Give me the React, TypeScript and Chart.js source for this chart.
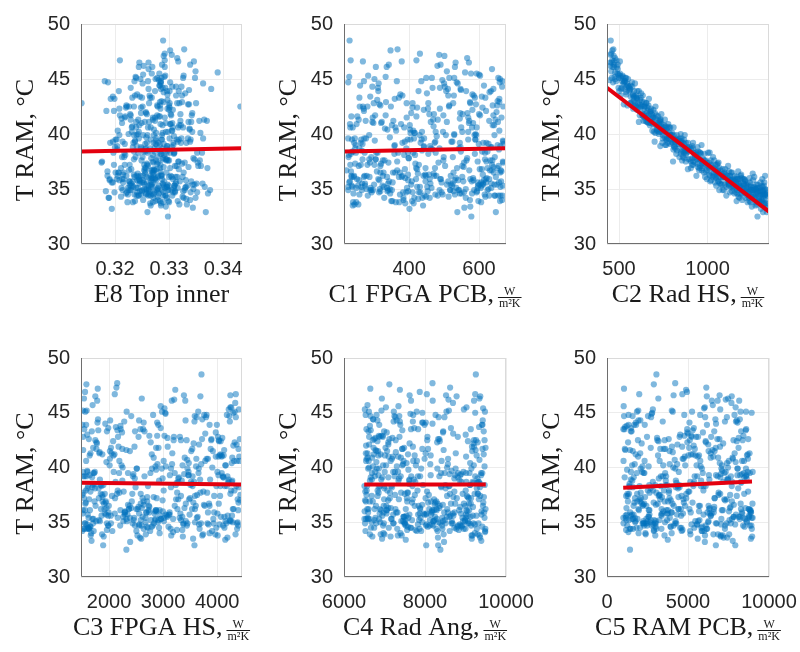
import React, { useEffect, useRef } from "react";
import { Chart, registerables } from "chart.js";
Chart.register(...registerables);

// T RAM, °C — shared response for all six panels (one value per sample)
const tRam = [
  35.7, 42.5, 38.8, 33.2, 47.6, 39.5, 36.1, 42.8, 34.3, 39.4, 43.5, 36.1,
  36.6, 41.6, 35.9, 45.6, 34.9, 41.1, 38.4, 35.3, 34.2, 45.1, 37.5, 37.1,
  41.1, 32.5, 38.3, 48.5, 37.0, 41.3, 35.1, 42.8, 33.7, 36.8, 42.5, 36.9,
  34.9, 44.2, 39.4, 34.7, 40.2, 39.0, 35.3, 43.2, 34.9, 45.3, 35.4, 39.9,
  36.1, 42.0, 33.8, 44.9, 37.8, 36.5, 43.9, 36.3, 39.5, 32.9, 40.1, 36.5,
  34.9, 43.7, 35.8, 46.1, 37.9, 35.9, 39.2, 34.8, 44.1, 38.3, 38.8, 33.8,
  41.1, 35.3, 40.6, 36.2, 43.6, 36.7, 35.2, 46.3, 36.7, 41.0, 34.2, 37.9,
  35.7, 46.5, 36.2, 35.6, 41.8, 36.8, 39.1, 33.6, 42.6, 35.8, 42.2, 34.7,
  39.1, 34.9, 45.1, 35.7, 40.6, 33.9, 42.6, 35.6, 37.6, 44.8, 35.8, 39.2,
  34.3, 41.8, 37.6, 34.5, 44.4, 37.5, 35.9, 41.2, 34.9, 46.2, 35.2, 40.0,
  36.7, 41.7, 34.7, 39.9, 33.3, 44.8, 35.2, 38.3, 35.8, 39.3, 37.7, 35.6,
  44.7, 35.1, 38.9, 36.7, 41.2, 34.9, 38.1, 34.9, 44.7, 36.2, 40.5, 34.6,
  36.2, 45.3, 38.1, 34.3, 40.3, 36.1, 34.4, 42.8, 38.3, 35.5, 40.7, 33.9,
  42.7, 36.4, 38.5, 34.6, 42.9, 36.1, 35.9, 45.2, 35.4, 40.4, 36.5, 35.4,
  38.5, 44.3, 34.8, 33.4, 41.3, 37.4, 39.2, 34.5, 44.6, 36.6, 37.5, 35.2,
  46.1, 34.9, 39.6, 33.9, 42.5, 35.4, 38.9, 35.9, 44.2, 37.3, 34.2, 41.5,
  36.9, 33.9, 42.3, 35.5, 40.6, 47.3, 35.4, 37.3, 35.3, 42.4, 33.5, 39.1,
  34.5, 44.3, 37.2, 34.7, 40.2, 38.7, 35.3, 42.2, 34.8, 37.4, 47.1, 35.0,
  39.5, 35.7, 41.6, 34.5, 38.7, 36.5, 44.0, 34.0, 39.0, 35.1, 45.1, 36.3,
  35.0, 37.6, 34.9, 41.6, 34.8, 37.8, 41.3, 34.4, 44.6, 34.7, 36.8, 42.3,
  36.0, 43.9, 35.7, 34.4, 46.6, 39.9, 35.1, 38.9, 35.3, 37.1, 46.7, 35.5,
  44.4, 36.1, 39.8, 33.8, 43.2, 34.9, 36.9, 37.3, 45.0, 35.1, 38.2, 32.9,
  34.9, 40.2, 36.2, 47.2, 37.6, 34.2, 42.8, 35.9, 39.2, 35.5, 44.8, 34.2,
  38.9, 35.4, 41.2, 36.2, 39.0, 34.4, 46.7, 36.2, 39.9, 34.7, 41.9, 37.0,
  34.4, 42.8, 33.8, 39.2, 37.2, 43.1, 36.0, 47.7, 35.6, 40.9, 34.6, 35.9,
  41.0, 35.5, 39.5, 36.5, 43.9, 33.6, 37.9, 36.5, 43.5, 34.8, 39.6, 36.8,
  36.4, 45.2, 37.1, 34.6, 42.5, 33.7, 38.2, 37.9, 45.1, 35.1, 40.3, 36.0,
  37.7, 34.5, 44.3, 36.0, 39.3, 35.3, 41.9, 33.5, 38.1, 45.5, 34.6, 34.4,
  36.3, 40.6, 34.4, 43.8, 35.5, 38.4, 34.0, 41.0, 35.4, 35.2, 43.9, 37.7,
  35.0, 46.3, 35.6, 34.8, 38.7, 35.8, 40.9, 34.0, 37.2, 44.2, 35.1, 40.1,
  36.1, 34.5, 42.6, 38.2, 34.1, 41.0, 35.6, 44.1, 37.8, 34.4, 37.1, 41.9,
  35.0, 39.5, 35.2, 46.5, 36.1, 35.1, 43.0, 37.4, 35.8, 40.3, 36.2, 33.9,
  41.4, 39.6, 43.3, 39.2, 40.6, 45.0, 38.3, 41.7, 39.5, 36.2, 41.8, 45.9,
  39.5, 41.5, 38.2, 43.5, 41.3, 36.6, 38.8, 43.5, 39.1, 35.1, 46.6, 38.4,
  43.3, 38.3, 41.7, 37.4, 39.9, 44.7, 34.4, 40.8, 37.6, 41.5, 35.9, 37.5,
  40.2, 35.7, 42.7, 38.4, 42.1, 34.7, 40.6, 45.7, 38.4, 40.8, 36.5, 42.9,
  39.2, 41.7, 36.3, 40.9, 43.6, 36.9, 42.5, 34.7, 39.3, 43.3, 33.8, 37.2,
  40.8, 36.1, 40.1, 43.9, 37.2, 40.2, 39.2, 45.5, 34.2, 42.6, 36.9, 35.4,
  40.0, 34.9, 44.1, 39.3, 36.9, 41.7, 35.6, 39.6, 38.7, 35.2, 44.8, 41.5,
  37.7, 42.4, 36.2, 39.5, 46.9, 38.7, 34.9, 41.1, 37.6, 39.3, 35.8, 43.3,
  39.9, 36.5, 44.6, 37.7, 42.1, 34.7, 39.6, 37.4, 42.5, 35.3, 41.1, 38.3,
  42.4, 39.9, 37.1, 46.1, 38.3, 40.8, 35.9, 38.7, 43.4, 35.7, 41.8, 38.3,
  35.7, 42.8, 38.6, 35.2, 39.7, 45.1, 37.2, 41.2, 34.7, 38.8, 43.4, 36.7,
  40.4, 37.9, 42.9, 35.5, 39.6, 45.4, 36.2, 40.6, 36.7, 42.3, 35.0, 38.6,
];

// E8 Top inner
const e8TopInner = [
  0.3291, 0.3432, 0.3248, 0.3194, 0.3302, 0.3266, 0.3315, 0.3138, 0.3279, 0.3237, 0.3324, 0.3258,
  0.3284, 0.3219, 0.3307, 0.3390, 0.3262, 0.3341, 0.3273, 0.3229, 0.3296, 0.3286, 0.3176, 0.3311,
  0.3255, 0.3298, 0.3243, 0.3289, 0.3336, 0.3270, 0.3212, 0.3301, 0.3265, 0.3318, 0.3251, 0.3283,
  0.3230, 0.3293, 0.3276, 0.3352, 0.3244, 0.3308, 0.3262, 0.3199, 0.3287, 0.3327, 0.3268, 0.3240,
  0.3305, 0.3257, 0.3223, 0.3281, 0.3345, 0.3271, 0.3296, 0.3235, 0.3314, 0.3260, 0.3288, 0.3206,
  0.3277, 0.3330, 0.3252, 0.3292, 0.3217, 0.3274, 0.3322, 0.3246, 0.3285, 0.3361, 0.3233, 0.3300,
  0.3263, 0.3310, 0.3239, 0.3280, 0.3297, 0.3226, 0.3269, 0.3339, 0.3254, 0.3294, 0.3188, 0.3278,
  0.3320, 0.3245, 0.3286, 0.3215, 0.3303, 0.3272, 0.3256, 0.3333, 0.3283, 0.3241, 0.3307, 0.3264,
  0.3290, 0.3228, 0.3348, 0.3267, 0.3231, 0.3299, 0.3278, 0.3313, 0.3249, 0.3285, 0.3208, 0.3271,
  0.3325, 0.3259, 0.3295, 0.3236, 0.3282, 0.3317, 0.3203, 0.3274, 0.3329, 0.3253, 0.3290, 0.3242,
  0.3269, 0.3304, 0.3222, 0.3287, 0.3344, 0.3261, 0.3234, 0.3309, 0.3276, 0.3196, 0.3296, 0.3250,
  0.3284, 0.3316, 0.3240, 0.3273, 0.3356, 0.3258, 0.3291, 0.3225, 0.3302, 0.3266, 0.3338, 0.3281,
  0.3247, 0.3293, 0.3270, 0.3211, 0.3306, 0.3279, 0.3243, 0.3319, 0.3260, 0.3288, 0.3232, 0.3275,
  0.3335, 0.3256, 0.3298, 0.3220, 0.3283, 0.3312, 0.3267, 0.3238, 0.3347, 0.3272, 0.3201, 0.3289,
  0.3262, 0.3323, 0.3250, 0.3294, 0.3229, 0.3280, 0.3308, 0.3257, 0.3285, 0.3186, 0.3270, 0.3331,
  0.3244, 0.3299, 0.3276, 0.3316, 0.3235, 0.3266, 0.3297, 0.3213, 0.3288, 0.3259, 0.3327, 0.3274,
  0.3302, 0.3237, 0.3284, 0.3351, 0.3261, 0.3292, 0.3227, 0.3278, 0.3310, 0.3248, 0.3285, 0.3218,
  0.3271, 0.3306, 0.3254, 0.3289, 0.3343, 0.3265, 0.3232, 0.3300, 0.3279, 0.3175, 0.3290, 0.3262,
  0.3318, 0.3246, 0.3283, 0.3224, 0.3295, 0.3269, 0.3337, 0.3252, 0.3277, 0.3309, 0.3239, 0.3286,
  0.3258, 0.3300, 0.3214, 0.3281, 0.3326, 0.3267, 0.3243, 0.3293, 0.3363, 0.3273, 0.3230, 0.3297,
  0.3268, 0.3301, 0.3227, 0.3289, 0.3317, 0.3252, 0.3279, 0.3204, 0.3334, 0.3261, 0.3292, 0.3245,
  0.3283, 0.3236, 0.3309, 0.3270, 0.3192, 0.3298, 0.3257, 0.3324, 0.3275, 0.3242, 0.3286, 0.3368,
  0.3250, 0.3294, 0.3221, 0.3305, 0.3276, 0.3349, 0.3263, 0.3287, 0.3234, 0.3312, 0.3181, 0.3271,
  0.3296, 0.3255, 0.3321, 0.3240, 0.3283, 0.3266, 0.3209, 0.3303, 0.3272, 0.3340, 0.3248, 0.3290,
  0.3261, 0.3315, 0.3233, 0.3280, 0.3198, 0.3297, 0.3270, 0.3328, 0.3253, 0.3284, 0.3372, 0.3244,
  0.3306, 0.3259, 0.3287, 0.3216, 0.3274, 0.3319, 0.3238, 0.3295, 0.3264, 0.3183, 0.3301, 0.3277,
  0.3242, 0.3291, 0.3354, 0.3269, 0.3226, 0.3285, 0.3309, 0.3251, 0.3278, 0.3330, 0.3205, 0.3263,
  0.3288, 0.3248, 0.3313, 0.3275, 0.3237, 0.3299, 0.3343, 0.3266, 0.3219, 0.3282, 0.3258, 0.3306,
  0.3271, 0.3326, 0.3244, 0.3290, 0.3362, 0.3256, 0.3280, 0.3213, 0.3297, 0.3267, 0.3318, 0.3235,
  0.3254, 0.3287, 0.3196, 0.3311, 0.3273, 0.3245, 0.3302, 0.3339, 0.3260, 0.3229, 0.3293, 0.3276,
  0.3300, 0.3263, 0.3221, 0.3284, 0.3332, 0.3249, 0.3271, 0.3378, 0.3289, 0.3240, 0.3314, 0.3257,
  0.3279, 0.3203, 0.3296, 0.3262, 0.3325, 0.3239, 0.3286, 0.3271, 0.3190, 0.3305, 0.3252, 0.3283,
  0.3212, 0.3335, 0.3268, 0.3191, 0.3307, 0.3247, 0.3352, 0.3229, 0.3286, 0.3205, 0.3321, 0.3262,
  0.3340, 0.3218, 0.3294, 0.3237, 0.3365, 0.3256, 0.3200, 0.3313, 0.3275, 0.3224, 0.3346, 0.3283,
  0.3232, 0.3302, 0.3209, 0.3329, 0.3260, 0.3187, 0.3294, 0.3245, 0.3357, 0.3270, 0.3216, 0.3318,
  0.3298, 0.3226, 0.3337, 0.3253, 0.3198, 0.3311, 0.3266, 0.3349, 0.3235, 0.3288, 0.3207, 0.3324,
  0.3259, 0.3342, 0.3215, 0.3303, 0.3241, 0.3371, 0.3279, 0.3199, 0.3316, 0.3250, 0.3289, 0.3227,
  0.3319, 0.3243, 0.3358, 0.3207, 0.3284, 0.3231, 0.3332, 0.3268, 0.3189, 0.3300, 0.3255, 0.3344,
  0.3225, 0.3305, 0.3262, 0.3339, 0.3211, 0.3278, 0.3194, 0.3323, 0.3249, 0.3366, 0.3236, 0.3292,
  0.3347, 0.3220, 0.3286, 0.3201, 0.3315, 0.3257, 0.3376, 0.3239, 0.3298, 0.3214, 0.3331, 0.3265,
  0.3208, 0.3327, 0.3251, 0.3294, 0.3184, 0.3308, 0.3244, 0.3353, 0.3222, 0.3281, 0.3336, 0.3197,
  0.3301, 0.3235, 0.3359, 0.3269, 0.3217, 0.3322, 0.3190, 0.3287, 0.3246, 0.3341, 0.3228, 0.3310,
  0.3233, 0.3350, 0.3204, 0.3296, 0.3258, 0.3326, 0.3218, 0.3370, 0.3241, 0.3305, 0.3196, 0.3273,
  0.3338, 0.3213, 0.3290, 0.3230, 0.3363, 0.3252, 0.3186, 0.3317, 0.3267, 0.3208, 0.3345, 0.3256,
];

// C1 FPGA PCB, W/m²K
const c1FpgaPcb = [
  512, 268, 633, 401, 347, 589, 236, 455, 618, 302, 528, 379,
  664, 421, 251, 560, 487, 322, 609, 274, 438, 655, 366, 503,
  295, 578, 412, 230, 641, 469, 337, 526, 389, 602, 259, 447,
  543, 311, 668, 392, 476, 247, 597, 359, 624, 283, 519, 430,
  371, 650, 240, 495, 566, 318, 427, 611, 263, 538, 404, 660,
  289, 451, 584, 336, 227, 619, 473, 398, 547, 306, 636, 362,
  508, 254, 593, 441, 375, 662, 328, 490, 221, 571, 415, 645,
  343, 533, 279, 606, 458, 388, 670, 244, 515, 315, 581, 432,
  627, 297, 465, 555, 232, 409, 652, 353, 498, 271, 614, 381,
  449, 600, 325, 531, 260, 668, 420, 572, 340, 481, 238, 590,
  366, 641, 493, 286, 558, 435, 226, 617, 397, 521, 304, 657,
  536, 249, 460, 631, 355, 586, 417, 292, 659, 478, 331, 545,
  273, 603, 386, 513, 658, 242, 444, 575, 310, 635, 470, 352,
  591, 425, 265, 550, 334, 648, 491, 229, 612, 403, 527, 300,
  437, 666, 318, 575, 256, 484, 621, 374, 539, 234, 596, 452,
  305, 541, 414, 660, 281, 508, 358, 629, 467, 246, 562, 393,
  624, 349, 488, 266, 580, 431, 644, 320, 523, 410, 239, 599,
  475, 295, 637, 383, 552, 258, 607, 442, 338, 669, 501, 278,
  569, 408, 235, 616, 463, 327, 548, 384, 653, 290, 529, 446,
  345, 638, 517, 252, 594, 399, 482, 661, 313, 557, 423, 270,
  583, 312, 447, 629, 268, 505, 394, 661, 236, 552, 421, 340,
  614, 287, 479, 372, 658, 226, 537, 418, 301, 596, 455, 648,
  351, 569, 243, 486, 632, 329, 410, 575, 262, 525, 667, 384,
  442, 601, 276, 519, 359, 646, 233, 472, 587, 314, 406, 556,
  667, 393, 249, 545, 428, 309, 622, 367, 493, 231, 580, 459,
  298, 611, 436, 354, 563, 255, 499, 642, 381, 527, 272, 608,
  470, 333, 656, 241, 514, 413, 588, 292, 449, 635, 363, 534,
  617, 258, 502, 389, 669, 324, 567, 440, 228, 593, 346, 482,
  397, 549, 282, 630, 461, 237, 574, 320, 651, 423, 506, 267,
  562, 342, 620, 453, 246, 530, 377, 666, 301, 488, 605, 415,
  271, 496, 639, 358, 426, 583, 229, 511, 399, 644, 318, 546,
  627, 404, 264, 571, 337, 464, 653, 288, 540, 412, 235, 598,
  545, 277, 618, 433, 361, 660, 248, 498, 590, 325, 471, 637,
  396, 569, 234, 512, 647, 308, 443, 585, 267, 535, 379, 624,
  258, 476, 603, 341, 529, 226, 655, 402, 564, 296, 489, 621,
  437, 663, 315, 548, 271, 593, 386, 508, 240, 639, 360, 574,
  612, 333, 457, 250, 581, 420, 669, 293, 524, 371, 606, 232,
  351, 552, 416, 634, 281, 497, 243, 577, 459, 318, 652, 406,
  529, 265, 641, 388, 474, 303, 596, 226, 543, 431, 365, 664,
  286, 610, 448, 237, 566, 392, 518, 654, 330, 475, 257, 588,
  644, 374, 500, 305, 620, 428, 245, 557, 348, 668, 462, 273,
  423, 592, 256, 531, 369, 643, 312, 487, 608, 231, 553, 397,
  579, 299, 467, 661, 345, 515, 262, 629, 410, 547, 289, 636,
  338, 525, 658, 274, 443, 600, 381, 239, 572, 454, 316, 657,
];

// C2 Rad HS, W/m²K
const c2RadHs = [
  1212, 587, 943, 1301, 462, 768, 1088, 655, 1175, 833, 509, 1264,
  991, 721, 1140, 478, 1320, 612, 872, 1049, 1233, 540, 805, 1116,
  684, 1282, 925, 453, 1011, 759, 1197, 566, 1331, 889, 642, 1068,
  1245, 497, 852, 1159, 733, 966, 1306, 603, 1093, 520, 1218, 790,
  1029, 676, 1271, 448, 914, 1132, 557, 1190, 818, 1313, 705, 980,
  1254, 625, 1077, 471, 861, 1168, 744, 1295, 531, 1003, 898, 1226,
  662, 1121, 783, 1325, 579, 952, 1184, 493, 1058, 716, 1289, 841,
  1150, 458, 937, 1239, 634, 1100, 822, 1318, 548, 1020, 694, 1205,
  867, 1276, 511, 1063, 752, 1164, 595, 1299, 960, 484, 1131, 776,
  1247, 669, 1038, 1310, 565, 905, 1182, 729, 1085, 450, 1261, 848,
  998, 617, 1211, 797, 1327, 535, 1108, 881, 1257, 701, 975, 1146,
  466, 1287, 812, 1072, 649, 1221, 930, 1335, 573, 1015, 739, 1193,
  1124, 504, 877, 1268, 688, 1045, 1302, 606, 955, 1176, 762, 1237,
  527, 1091, 828, 1316, 641, 986, 1156, 475, 1208, 713, 1056, 1283,
  893, 554, 1137, 1250, 675, 1008, 800, 1322, 590, 1173, 920, 1229,
  487, 1066, 747, 1292, 628, 1117, 858, 1203, 515, 968, 1273, 695,
  1034, 1308, 580, 1161, 789, 456, 1098, 945, 1242, 660, 1328, 836,
  1187, 542, 1053, 1280, 723, 887, 1143, 601, 1216, 996, 470, 1269,
  811, 1111, 654, 1330, 918, 1024, 562, 1196, 766, 1296, 498, 1080,
  1234, 856, 1167, 637, 1311, 948, 736, 1258, 524, 1127, 1041, 680,
  1193, 612, 1015, 1289, 505, 871, 1142, 733, 1318, 958, 461, 1226,
  548, 1097, 782, 1243, 669, 1301, 906, 1057, 479, 1165, 823, 1334,
  1263, 697, 1128, 452, 987, 1214, 591, 1309, 852, 1069, 531, 1180,
  914, 1275, 638, 1036, 761, 1324, 485, 1153, 809, 1250, 703, 944,
  1106, 563, 1292, 877, 1019, 619, 1237, 468, 1174, 741, 1333, 996,
  678, 1204, 835, 1061, 501, 1280, 927, 1139, 596, 1313, 772, 1085,
  1255, 521, 975, 1168, 648, 1322, 849, 1031, 459, 1219, 715, 1117,
  893, 1297, 575, 1048, 797, 1186, 630, 1271, 937, 490, 1152, 1339,
  1009, 744, 1231, 538, 1120, 862, 1305, 666, 1077, 1246, 603, 958,
  1199, 473, 1042, 1286, 818, 1133, 691, 1328, 912, 557, 1177, 785,
  1090, 1259, 626, 982, 1317, 727, 1161, 512, 869, 1223, 1003, 655,
  1326, 804, 1148, 449, 1066, 1278, 585, 929, 1210, 756, 1110, 1294,
  705, 842, 623, 918, 774, 551, 1012, 688, 867, 1187, 739, 493,
  815, 660, 963, 578, 731, 1121, 886, 634, 790, 1258, 472, 851,
  598, 935, 712, 1062, 826, 528, 1315, 754, 982, 646, 1208, 877,
  763, 1138, 617, 895, 679, 1274, 808, 456, 947, 723, 1035, 572,
  858, 640, 1101, 778, 541, 970, 706, 1227, 832, 603, 1302, 918,
  674, 1166, 799, 585, 1044, 742, 889, 505, 1265, 666, 953, 1081,
  725, 1191, 563, 845, 1006, 631, 1320, 780, 907, 1134, 518, 690,
  939, 609, 1053, 767, 478, 873, 1244, 657, 1018, 816, 1149, 583,
  748, 1096, 544, 902, 661, 1283, 823, 976, 597, 1205, 733, 866,
  619, 791, 1023, 463, 958, 708, 1172, 840, 566, 1059, 683, 921,
  1118, 652, 876, 1311, 757, 534, 992, 698, 1236, 812, 587, 1045,
  769, 931, 629, 1179, 853, 496, 1084, 718, 968, 644, 1272, 807,
];

// C3 FPGA HS, W/m²K
const c3FpgaHs = [
  3120, 1745, 4280, 2390, 1580, 3655, 2870, 4015, 1960, 3390, 2215, 4390,
  2640, 1520, 3830, 2955, 4170, 2080, 3505, 1690, 2760, 4325, 1875, 3240,
  4050, 2320, 1610, 3710, 2990, 1820, 4230, 2545, 3365, 1935, 3890, 2705,
  1550, 3580, 2450, 4110, 2010, 3280, 1710, 3975, 2830, 4405, 2160, 3450,
  2935, 4300, 1660, 3045, 2270, 3770, 1505, 2605, 4085, 1890, 3610, 2380,
  3935, 2125, 3320, 1780, 4260, 2690, 3545, 1595, 2890, 4140, 2245, 3725,
  1640, 3185, 4365, 2505, 1985, 3850, 2775, 1535, 3420, 4025, 2060, 3010,
  2340, 3690, 1850, 4195, 2915, 1570, 3295, 2570, 4420, 1920, 3565, 2810,
  4120, 1705, 2980, 3490, 2190, 4340, 1625, 3065, 2430, 3805, 1510, 2655,
  3355, 2035, 4245, 2715, 1795, 3630, 2295, 4060, 1560, 3205, 2850, 3910,
  1905, 4395, 2480, 3145, 1675, 3760, 2585, 4180, 2105, 3470, 1525, 2945,
  3585, 2265, 1830, 4030, 2790, 3375, 1600, 3820, 2410, 4290, 1950, 3100,
  2530, 4215, 1740, 3255, 2895, 1515, 3675, 2165, 4355, 2620, 3445, 1870,
  4095, 2745, 3530, 1650, 3025, 2210, 3945, 1585, 2465, 4270, 1995, 3305,
  1725, 3415, 2560, 4150, 2045, 3590, 1545, 2925, 3795, 2350, 4430, 1810,
  3160, 1960, 4005, 2680, 3330, 1620, 3870, 2285, 4235, 2825, 1505, 3520,
  2420, 3740, 1765, 3080, 4315, 2135, 3625, 1880, 2960, 4065, 2595, 1685,
  3985, 2555, 1535, 3440, 2230, 4200, 2860, 1775, 3665, 2055, 3225, 4380,
  2185, 3050, 4130, 1615, 3515, 2735, 1930, 3860, 2475, 4255, 1560, 3395,
  2905, 1845, 3700, 2320, 4045, 1655, 3170, 2640, 4345, 1985, 3560, 2770,
  2295, 3860, 1605, 3140, 4245, 2510, 1830, 3685, 2960, 4380, 2105, 3355,
  3725, 1555, 2870, 4010, 2240, 3450, 1940, 2705, 4300, 3015, 1690, 3580,
  2035, 4160, 3265, 1790, 2585, 3905, 1520, 3120, 2440, 4070, 2815, 1715,
  4215, 2675, 1875, 3535, 2990, 1630, 4345, 2365, 3660, 1985, 3085, 4425,
  1585, 3310, 2525, 4105, 1810, 3780, 2850, 2150, 4275, 3400, 1655, 2740,
  3975, 2260, 1725, 3605, 2910, 4190, 1570, 3215, 2630, 3840, 2085, 4395,
  2545, 1515, 3480, 2790, 4030, 1900, 3145, 4320, 2325, 1760, 3705, 2995,
  3260, 4135, 2020, 2880, 1640, 3930, 2470, 3555, 1805, 4260, 2700, 1535,
  1950, 3010, 4370, 2210, 3640, 1700, 2935, 4085, 2385, 3330, 1575, 3815,
  4290, 2605, 1860, 3375, 2120, 4005, 2825, 1670, 3500, 2280, 4155, 3050,
  2730, 1620, 3895, 2490, 3185, 4410, 1985, 2640, 3745, 1530, 3280, 2175,
  3590, 2350, 4240, 1745, 2865, 3420, 1595, 4055, 2555, 3165, 1915, 3965,
  1825, 3470, 2655, 4190, 1575, 3040, 3985, 2245, 1710, 3590, 2870, 4335,
  3215, 2015, 4400, 2580, 1655, 3755, 2925, 1540, 4110, 2330, 3385, 1895,
  2480, 4060, 1765, 3330, 2795, 4225, 1620, 3615, 2145, 3920, 2690, 1505,
  4150, 2290, 3080, 1840, 3665, 2550, 4415, 1695, 3235, 2015, 3860, 2745,
  1580, 3540, 2410, 4280, 2955, 1730, 3435, 2205, 4025, 1960, 3150, 2620,
  3805, 1645, 2860, 3995, 2110, 3360, 1525, 4245, 2505, 3720, 1880, 3020,
  2250, 4365, 1785, 3125, 2640, 3880, 2030, 1600, 3575, 2915, 4180, 2385,
  3690, 2075, 4305, 2765, 1555, 3280, 2435, 4085, 1920, 3470, 2840, 1680,
  2975, 1750, 3620, 2190, 4360, 2600, 1515, 3945, 3195, 2320, 4120, 1860,
  4035, 2515, 1630, 3410, 2720, 3830, 1990, 4270, 2155, 3105, 1705, 3545,
  1945, 3200, 4215, 2455, 1595, 3650, 2880, 2100, 4390, 3345, 1800, 2585,
  3475, 2160, 2890, 4135, 1735, 3025, 2370, 3780, 1560, 4325, 2675, 3250,
];

// C4 Rad Ang, W/m²K
const c4RadAng = [
  7830, 9210, 6640, 8470, 7120, 9385, 6915, 8060, 7560, 8895, 6555, 9020,
  8240, 6780, 9460, 7345, 8680, 7010, 9105, 6590, 7905, 8530, 7260, 9330,
  6850, 8380, 7690, 9255, 6520, 8015, 7455, 8810, 7150, 9440, 6710, 8150,
  9060, 7380, 8605, 6965, 7775, 9295, 6625, 8445, 7215, 8960, 7590, 6810,
  8290, 6545, 9150, 7640, 8725, 7045, 9405, 7880, 6690, 8325, 7305, 8995,
  7505, 9335, 6880, 8190, 7070, 8565, 6760, 9230, 7950, 6505, 8855, 7425,
  9275, 7175, 8410, 6605, 7735, 9085, 8120, 6935, 8640, 7340, 9485, 6830,
  7990, 8780, 6575, 9180, 7485, 8250, 7095, 9360, 6745, 8035, 7620, 8920,
  6660, 8505, 7230, 9010, 7800, 6905, 8355, 7540, 9310, 6535, 8685, 7400,
  8835, 7025, 9225, 7660, 6725, 8095, 7290, 9450, 6985, 8580, 7855, 6620,
  9130, 7445, 8205, 6860, 9390, 7710, 8490, 6570, 7965, 8745, 7135, 9045,
  7365, 8940, 6690, 8310, 7580, 9195, 6995, 8655, 7245, 9495, 6800, 8070,
  8550, 6515, 9280, 7765, 8130, 7060, 9000, 6875, 8395, 7490, 9345, 6640,
  7195, 8870, 7610, 9415, 6950, 8225, 7320, 8590, 6585, 9115, 7840, 8425,
  9365, 6825, 8040, 7525, 8760, 6685, 9240, 7105, 8335, 7930, 6555, 8985,
  7655, 9095, 6770, 8460, 7275, 9470, 6920, 8175, 7700, 8700, 6530, 9165,
  8280, 7000, 9300, 7470, 6610, 8620, 7890, 9055, 7165, 8365, 6940, 8810,
  6745, 9425, 7555, 8115, 7040, 8900, 6505, 9200, 7825, 8545, 7380, 6895,
  9015, 7215, 8460, 6665, 9320, 7745, 8185, 6975, 8725, 7415, 9480, 7095,
  7935, 8615, 6795, 9250, 7500, 8050, 6580, 8955, 7270, 9140, 7680, 8300,
  8165, 6870, 9395, 7315, 8520, 6595, 9060, 7720, 8290, 6990, 9240, 7470,
  6715, 8845, 7590, 9170, 7055, 8375, 6540, 9455, 7935, 8660, 7185, 8030,
  9320, 7440, 8105, 6650, 8930, 7795, 6960, 8475, 7250, 9125, 6805, 8610,
  7615, 9005, 6735, 8280, 7360, 9490, 8045, 6885, 8755, 7530, 9210, 7090,
  8430, 6620, 9350, 7880, 7130, 8695, 6510, 8185, 9270, 7405, 8905, 6980,
  7210, 8540, 9100, 6790, 7990, 8320, 6560, 9430, 7655, 8860, 7335, 8080,
  9185, 6925, 8225, 7575, 9470, 6700, 8400, 7815, 6615, 8990, 7460, 9045,
  6855, 8725, 7300, 9395, 8140, 6545, 7700, 9155, 8510, 7035, 8800, 7865,
  8355, 7150, 9280, 6640, 8605, 7950, 7395, 9015, 6775, 8240, 9420, 7560,
  7485, 9345, 6945, 8170, 7760, 8890, 6590, 9230, 8015, 7225, 8440, 6715,
  9090, 7640, 8325, 6860, 9485, 7100, 8630, 7930, 6525, 8775, 7355, 9160,
  6680, 8485, 7525, 9365, 7045, 8210, 9005, 6830, 7870, 8565, 7270, 9300,
  7280, 8950, 6605, 8355, 7710, 9240, 6885, 8075, 9415, 7525, 6730, 8690,
  8815, 7065, 9355, 7830, 6540, 8440, 7345, 9130, 6945, 8210, 7620, 9475,
  6990, 8590, 7435, 9035, 7905, 6655, 8285, 7185, 9300, 6800, 8730, 7750,
  9205, 7615, 6775, 8505, 7095, 8880, 7470, 6580, 9115, 7990, 8365, 6915,
  7825, 9420, 7155, 6695, 8640, 7560, 9260, 8025, 6850, 8450, 7330, 9080,
  6560, 8180, 9470, 7390, 8785, 6965, 7660, 9025, 8310, 7120, 6710, 8925,
  8545, 7225, 8020, 9385, 6635, 7935, 8700, 7005, 9175, 7680, 8260, 6840,
  7410, 9060, 6755, 8395, 7870, 9330, 6520, 8140, 7500, 8870, 7050, 9450,
  9145, 6980, 8480, 7580, 6620, 8815, 7260, 9365, 8055, 6870, 7745, 8605,
  6825, 8305, 7695, 9210, 7165, 8570, 6595, 9020, 7440, 8150, 9495, 7000,
  8035, 7370, 9290, 6750, 8655, 7795, 9135, 6905, 8420, 7610, 6660, 8960,
  7545, 9005, 6860, 8250, 7215, 9435, 7880, 6545, 8745, 7095, 8335, 9195,
];

// C5 RAM PCB, W/m²K
const c5RamPcb = [
  4320, 7810, 1560, 6040, 2890, 8450, 3670, 5230, 1180, 7020, 4950, 8830,
  2240, 6510, 3980, 1030, 7640, 5470, 2610, 8190, 4610, 1850, 6880, 3290,
  8640, 1420, 5790, 3050, 7290, 2050, 6270, 4480, 8960, 1690, 5110, 3760,
  6720, 3440, 8320, 1250, 4830, 7480, 2430, 5920, 1020, 6990, 3880, 8070,
  1970, 5350, 7150, 2760, 8710, 4120, 1330, 6350, 3590, 7920, 2190, 5670,
  7380, 1110, 4690, 6830, 2520, 8890, 3330, 5550, 1780, 7700, 4250, 2980,
  5020, 8530, 2320, 6600, 1490, 4040, 7560, 3170, 8250, 1920, 5840, 3520,
  1640, 6160, 4430, 8770, 2700, 5280, 1090, 7200, 3810, 6460, 2140, 8400,
  7000, 3010, 8580, 1540, 5760, 2390, 6940, 4570, 1260, 7870, 3710, 5410,
  2900, 8120, 4900, 1820, 6690, 3260, 8860, 5190, 2470, 7330, 1360, 4090,
  8980, 3600, 6090, 2080, 7760, 4770, 1200, 5960, 3410, 8220, 2630, 6410,
  1580, 5630, 7470, 3130, 8690, 2270, 4380, 6780, 1050, 5090, 7940, 3940,
  6300, 2830, 8100, 4660, 1710, 7090, 3360, 5500, 2010, 8790, 4180, 6570,
  3090, 7630, 1390, 5880, 8420, 2580, 6200, 4000, 1160, 7410, 4820, 8930,
  5320, 1940, 7040, 3750, 6400, 1280, 8570, 4510, 2720, 7830, 3220, 5710,
  8160, 4270, 2170, 6850, 3560, 8740, 1470, 5170, 7280, 2350, 6010, 3860,
  1870, 7540, 4960, 2550, 8340, 6130, 1010, 4410, 7720, 3180, 5600, 8480,
  4590, 2060, 6650, 8910, 3470, 5380, 1620, 7170, 2850, 8010, 4880, 6240,
  7250, 3340, 1130, 5820, 8270, 2430, 6730, 3990, 8620, 1750, 5250, 7580,
  2670, 6990, 4210, 1420, 7910, 5020, 8800, 3050, 6060, 2290, 4740, 1300,
  5680, 2330, 7960, 1460, 4110, 8580, 3010, 6320, 1880, 7240, 4650, 2590,
  8200, 3760, 1240, 6050, 4950, 2200, 7710, 3390, 8930, 5450, 1600, 6720,
  2950, 7100, 4400, 1050, 8470, 5880, 2470, 6590, 3650, 7830, 1330, 5130,
  7390, 1720, 5300, 8760, 3200, 6180, 1990, 4560, 8050, 2760, 6980, 3940,
  1410, 6430, 3550, 7650, 2100, 5000, 8870, 4210, 1150, 6860, 3000, 8320,
  4800, 8110, 2260, 5740, 1680, 7420, 3830, 6270, 1010, 5560, 8690, 2880,
  6620, 1930, 4720, 8490, 3110, 7020, 1390, 5950, 8240, 2510, 4330, 7530,
  2080, 5390, 8010, 3480, 6730, 1560, 4640, 8880, 2690, 6040, 3920, 7280,
  8540, 3250, 6150, 1210, 7810, 4470, 2370, 5600, 8990, 3710, 1800, 6890,
  3580, 7470, 1470, 5220, 2830, 8350, 6400, 1950, 4890, 7960, 2240, 5780,
  7150, 2040, 8720, 4250, 1320, 6560, 3380, 8060, 5080, 1610, 7390, 4010,
  1740, 5910, 3240, 7700, 2620, 8620, 4520, 1180, 6340, 3870, 8270, 5150,
  4060, 7330, 1520, 5570, 8460, 2790, 6090, 3500, 8820, 1940, 5070, 7680,
  2310, 6640, 4480, 1080, 7880, 3020, 5810, 8590, 1650, 4230, 6950, 3620,
  8280, 1370, 5420, 3190, 7060, 2530, 8940, 4730, 1860, 6270, 3990, 7600,
  1550, 5960, 8130, 2980, 4350, 7290, 1020, 6530, 3710, 8700, 2200, 5210,
  6830, 3290, 1200, 7750, 5360, 2060, 8370, 4120, 6290, 1470, 7020, 3860,
  4670, 8860, 2570, 6170, 1730, 5530, 3450, 7940, 2890, 6810, 1290, 8420,
  7470, 2250, 5090, 8610, 3560, 1100, 6400, 4430, 7730, 2710, 5750, 1590,
  3040, 6090, 8750, 1840, 4940, 7180, 2390, 5680, 1360, 8050, 3750, 6620,
  5860, 1640, 7400, 3820, 6250, 2470, 8990, 4600, 1910, 7060, 3150, 5330,
  8010, 4210, 2010, 6470, 3310, 7770, 1430, 5140, 8560, 2620, 6710, 4370,
  1230, 5620, 8290, 2920, 7110, 4060, 6640, 1770, 8820, 3630, 5290, 2150,
  6960, 2840, 4780, 8200, 1480, 5990, 3370, 7520, 2300, 6100, 8640, 4290,
];

// Axis ticks
const yTicks = [30, 35, 40, 45, 50];
const e8Ticks = [0.32, 0.33, 0.34];
const c1Ticks = [400, 600];
const c2Ticks = [500, 1000];
const c3Ticks = [2000, 3000, 4000];
const c4Ticks = [6000, 8000, 10000];
const c5Ticks = [0, 5000, 10000];

// Axis ranges
const e8Range = [0.3137, 0.3435];
const c1Range = [214, 677];
const c2Range = [432, 1347];
const c3Range = [1480, 4460];
const c4Range = [6000, 10000];
const c5Range = [0, 10000];
const yRange = [30, 50];

// Linear fit lines (end points)
const e8FitX = [0.3137, 0.3435];
const e8FitY = [38.4, 38.7];
const c1FitX = [214, 677];
const c1FitY = [38.4, 38.7];
const c2FitX = [432, 1347];
const c2FitY = [44.2, 32.95];
const c3FitX = [1480, 4460];
const c3FitY = [38.6, 38.45];
const c4FitX = [6500, 9500];
const c4FitY = [38.45, 38.45];
const c5FitX = [1000, 8950];
const c5FitY = [38.15, 38.72];

type PanelCfg = {
  xs: number[];
  range: number[];
  ticks: number[];
  fitX: number[];
  fitY: number[];
  label: string;
  unit: boolean;
  plot: [number, number, number, number];
};

const YW = 80;
const XH = 72;
const PT = 12;
const PR = 45;

const panels: PanelCfg[] = [
  { xs: e8TopInner, range: e8Range, ticks: e8Ticks, fitX: e8FitX, fitY: e8FitY, label: "E8 Top inner", unit: false, plot: [81, 13, 242, 244] },
  { xs: c1FpgaPcb, range: c1Range, ticks: c1Ticks, fitX: c1FitX, fitY: c1FitY, label: "C1 FPGA PCB,", unit: true, plot: [344, 13, 506, 244] },
  { xs: c2RadHs, range: c2Range, ticks: c2Ticks, fitX: c2FitX, fitY: c2FitY, label: "C2 Rad HS,", unit: true, plot: [607, 13, 769, 244] },
  { xs: c3FpgaHs, range: c3Range, ticks: c3Ticks, fitX: c3FitX, fitY: c3FitY, label: "C3 FPGA HS,", unit: true, plot: [81, 347, 242, 577] },
  { xs: c4RadAng, range: c4Range, ticks: c4Ticks, fitX: c4FitX, fitY: c4FitY, label: "C4 Rad Ang,", unit: true, plot: [344, 347, 506, 577] },
  { xs: c5RamPcb, range: c5Range, ticks: c5Ticks, fitX: c5FitX, fitY: c5FitY, label: "C5 RAM PCB,", unit: true, plot: [607, 347, 769, 577] },
];

const SERIF = '"Liberation Serif", "Times New Roman", serif';
const SANS = '"Liberation Sans", Arial, sans-serif';

function makeDecor(label: string, unit: boolean) {
  return {
    id: "panelDecor",
    afterDraw(chart: any) {
      const ctx: CanvasRenderingContext2D = chart.ctx;
      const a = chart.chartArea;
      ctx.save();
      // light top/right box edges
      ctx.lineWidth = 1;
      ctx.strokeStyle = "#dadada";
      ctx.beginPath();
      ctx.moveTo(a.left, a.top + 0.5);
      ctx.lineTo(a.right, a.top + 0.5);
      ctx.moveTo(a.right - 0.5, a.top);
      ctx.lineTo(a.right - 0.5, a.bottom);
      ctx.stroke();
      // left/bottom axis lines
      ctx.strokeStyle = "#6e6e6e";
      ctx.beginPath();
      ctx.moveTo(a.left + 0.5, a.top);
      ctx.lineTo(a.left + 0.5, a.bottom - 0.5);
      ctx.lineTo(a.right, a.bottom - 0.5);
      ctx.stroke();

      ctx.fillStyle = "#1a1a1a";
      // y title
      ctx.save();
      ctx.translate(a.left - 48, (a.top + a.bottom) / 2 + 6);
      ctx.rotate(-Math.PI / 2);
      ctx.font = `26px ${SERIF}`;
      ctx.textAlign = "center";
      ctx.textBaseline = "alphabetic";
      ctx.fillText("T RAM, °C", 0, 0);
      ctx.restore();

      // x title
      const y0 = a.bottom + 58;
      const cx = (a.left + a.right) / 2;
      ctx.font = `26px ${SERIF}`;
      ctx.textBaseline = "alphabetic";
      ctx.textAlign = "left";
      const wMain = ctx.measureText(label).width;
      if (!unit) {
        ctx.fillText(label, cx - wMain / 2, y0);
      } else {
        ctx.font = `12px ${SERIF}`;
        const wNum = ctx.measureText("W").width;
        const wDen = ctx.measureText("m²K").width;
        const fracW = Math.max(wNum, wDen) + 2;
        const gap = 4;
        const total = wMain + gap + fracW;
        const sx = cx - total / 2;
        ctx.font = `26px ${SERIF}`;
        ctx.fillText(label, sx, y0);
        const fx = sx + wMain + gap + fracW / 2;
        ctx.font = `12px ${SERIF}`;
        ctx.textAlign = "center";
        ctx.fillText("W", fx, y0 - 7);
        ctx.fillRect(fx - fracW / 2, y0 - 5, fracW, 1);
        ctx.fillText("m²K", fx, y0 + 5);
      }
      ctx.restore();
    },
  };
}

function Panel({ cfg }: { cfg: PanelCfg }) {
  const ref = useRef<HTMLCanvasElement>(null);
  const [L, T, R, B] = cfg.plot;
  const w = R - L + YW + PR;
  const h = B - T + PT + XH;

  useEffect(() => {
    const canvas = ref.current;
    if (!canvas) return;
    const pts = cfg.xs.map((x, i) => ({ x, y: tRam[i] }));
    const fit = cfg.fitX.map((x, i) => ({ x, y: cfg.fitY[i] }));
    const tickFont = { family: SANS, size: 20 };
    const chart = new Chart(canvas, {
      type: "scatter",
      data: {
        datasets: [
          {
            type: "line",
            data: fit,
            borderColor: "#e3000f",
            borderWidth: 4,
            pointRadius: 0,
            fill: false,
            order: 0,
          } as any,
          {
            data: pts,
            backgroundColor: "rgba(0,114,189,0.5)",
            borderWidth: 0,
            pointRadius: 3.1,
            order: 1,
          },
        ],
      },
      options: {
        animation: false,
        responsive: false,
        maintainAspectRatio: false,
        devicePixelRatio: 1,
        layout: { padding: { left: 0, top: PT, right: PR, bottom: 0 } },
        plugins: { legend: { display: false }, tooltip: { enabled: false }, title: { display: false } },
        scales: {
          x: {
            type: "linear",
            min: cfg.range[0],
            max: cfg.range[1],
            bounds: "data",
            afterBuildTicks: (s: any) => {
              s.ticks = cfg.ticks.map((v) => ({ value: v }));
            },
            afterFit: (s: any) => {
              s.height = XH;
            },
            grid: { color: "#ececec", lineWidth: 1, drawTicks: false },
            border: { display: false },
            ticks: {
              font: tickFont,
              color: "#262626",
              padding: 13,
              autoSkip: false,
              maxRotation: 0,
              minRotation: 0,
              callback: (v: any) => String(v),
            },
          },
          y: {
            type: "linear",
            min: yRange[0],
            max: yRange[1],
            bounds: "data",
            afterBuildTicks: (s: any) => {
              s.ticks = yTicks.map((v) => ({ value: v }));
            },
            afterFit: (s: any) => {
              s.width = YW;
            },
            grid: { color: "#ececec", lineWidth: 1, drawTicks: false },
            border: { display: false },
            ticks: {
              font: tickFont,
              color: "#262626",
              padding: 11,
              autoSkip: false,
              callback: (v: any) => String(v),
            },
          },
        },
      } as any,
      plugins: [makeDecor(cfg.label, cfg.unit)],
    });
    return () => chart.destroy();
  }, []);

  return (
    <canvas
      ref={ref}
      width={w}
      height={h}
      style={{ position: "absolute", left: L - YW, top: T - PT, width: w, height: h }}
    />
  );
}

export default function App() {
  return (
    <div style={{ position: "absolute", left: 0, top: 0, width: 800, height: 652, background: "#ffffff", overflow: "hidden" }}>
      {panels.map((p, i) => (
        <Panel key={i} cfg={p} />
      ))}
    </div>
  );
}
